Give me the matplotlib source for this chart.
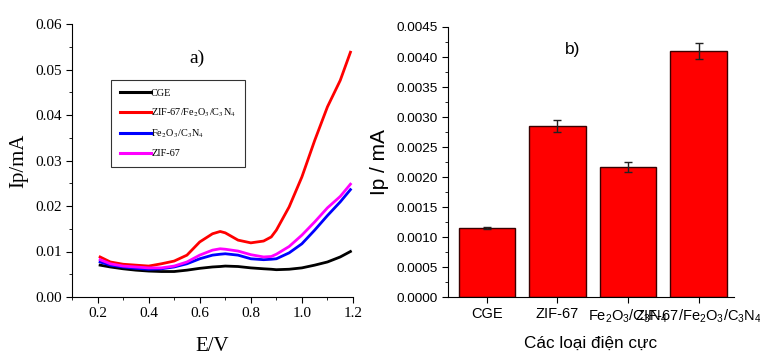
import matplotlib
matplotlib.use("Agg")
import matplotlib.pyplot as plt
import matplotlib.transforms as mtransforms
from matplotlib.font_manager import FontProperties
from matplotlib.ticker import MultipleLocator, FormatStrFormatter

plt.rcParams['mathtext.fontset'] = 'custom'
plt.rcParams['mathtext.rm'] = 'Liberation Sans'
plt.rcParams['mathtext.it'] = 'Liberation Sans:italic'

# ---- data: panel a ----
E = [0.21, 0.25, 0.30, 0.35, 0.40, 0.45, 0.50, 0.55, 0.60, 0.65, 0.68, 0.70,
     0.75, 0.80, 0.85, 0.88, 0.90, 0.95, 1.00, 1.05, 1.10, 1.15, 1.19]
cge = [0.0070, 0.0066, 0.0062, 0.0059, 0.0057, 0.0056, 0.0056, 0.0059, 0.0063, 0.0066, 0.0067, 0.0068,
       0.0067, 0.0064, 0.0062, 0.0061, 0.0060, 0.0061, 0.0064, 0.0070, 0.0077, 0.0088, 0.0100]
zif_fe_cn = [0.0088, 0.0077, 0.0072, 0.0070, 0.0068, 0.0073, 0.0079, 0.0092, 0.0121, 0.0139, 0.0144, 0.0141,
             0.0125, 0.0119, 0.0123, 0.0132, 0.0147, 0.0198, 0.0264, 0.0344, 0.0418, 0.0476, 0.0538]
fe_cn = [0.0077, 0.0070, 0.0066, 0.0063, 0.0061, 0.0062, 0.0066, 0.0073, 0.0084, 0.0092, 0.0094, 0.0095,
         0.0092, 0.0084, 0.0082, 0.0083, 0.0084, 0.0097, 0.0117, 0.0147, 0.0179, 0.0209, 0.0236]
zif = [0.0082, 0.0073, 0.0068, 0.0066, 0.0064, 0.0064, 0.0068, 0.0077, 0.0092, 0.0103, 0.0106, 0.0105,
       0.0101, 0.0093, 0.0088, 0.0089, 0.0094, 0.0111, 0.0136, 0.0165, 0.0196, 0.0221, 0.0248]

# ---- data: panel b ----
electrodes = ['CGE', 'ZIF-67', r'Fe$_2$O$_3$/C$_3$N$_4$', r'ZIF-67/Fe$_2$O$_3$/C$_3$N$_4$']
ip = [0.00115, 0.00285, 0.00217, 0.00410]
ip_err = [0.00002, 0.00010, 0.00008, 0.00014]

fig = plt.figure(figsize=(7.6, 3.58), dpi=100)

serif = 'Liberation Serif'
sans = 'Liberation Sans'

# ---------- panel a ----------
ax1 = fig.add_axes([72/760, 61/358, 281/760, 273/358])
ax1.plot(E, cge, color='black', lw=2, label='CGE')
ax1.plot(E, zif_fe_cn, color='#ff0000', lw=2, label=r'ZIF-67/Fe$_2$O$_3$/C$_3$N$_4$')
ax1.plot(E, fe_cn, color='#0000ff', lw=2, label=r'Fe$_2$O$_3$/C$_3$N$_4$')
ax1.plot(E, zif, color='#ff00ff', lw=2, label='ZIF-67')
ax1.set_xlim(0.1, 1.2)
ax1.set_ylim(0, 0.06)
ax1.xaxis.set_major_locator(MultipleLocator(0.2))
ax1.xaxis.set_minor_locator(MultipleLocator(0.1))
ax1.yaxis.set_major_locator(MultipleLocator(0.01))
ax1.yaxis.set_minor_locator(MultipleLocator(0.005))
ax1.xaxis.set_major_formatter(FormatStrFormatter('%.1f'))
ax1.yaxis.set_major_formatter(FormatStrFormatter('%.2f'))
ax1.spines['top'].set_visible(False)
ax1.spines['right'].set_visible(False)
ax1.tick_params(which='both', direction='out', labelsize=11)
ax1.tick_params(which='major', length=4)
ax1.tick_params(which='minor', length=2.5)
for lab in ax1.get_xticklabels() + ax1.get_yticklabels():
    lab.set_fontfamily(serif)
ax1.set_xlabel('E/V', fontfamily=serif, fontsize=15, labelpad=12)
ax1.set_ylabel('Ip/mA', fontfamily=serif, fontsize=15, labelpad=5)
ax1.text(0.445, 0.875, 'a)', transform=ax1.transAxes, fontfamily=serif, fontsize=14,
         ha='center', va='center')
leg = ax1.legend(loc='upper left', bbox_to_anchor=(39/281, 1 - (80 - 24)/273),
                 prop=FontProperties(family=serif, size=7.4, math_fontfamily='stix'),
                 frameon=True, fancybox=False, edgecolor='black', handlelength=3.0,
                 handletextpad=0.05, labelspacing=0.85, borderpad=0.85, borderaxespad=0)
for ln in leg.get_lines():
    ln.set_linewidth(2.2)
leg.get_frame().set_linewidth(0.8)

# ---------- panel b ----------
ax2 = fig.add_axes([448/760, 61/358, 286/760, 270/358])
x = list(range(len(electrodes)))
ax2.bar(x, ip, width=0.8, color='#ff0000', edgecolor='#3a0000', linewidth=1)
ax2.errorbar(x, ip, yerr=ip_err, fmt='none', ecolor='#222222', elinewidth=1, capsize=3)
ax2.set_xlim(-0.55, 3.5)
ax2.set_ylim(0, 0.0045)
ax2.set_xticks(x)
ax2.set_xticklabels(electrodes, fontfamily=sans, fontsize=10.5)
last = ax2.get_xticklabels()[-1]
last.set_transform(last.get_transform() + mtransforms.ScaledTranslation(14/100, 0, fig.dpi_scale_trans))
ax2.yaxis.set_major_locator(MultipleLocator(0.0005))
ax2.yaxis.set_minor_locator(MultipleLocator(0.00025))
ax2.yaxis.set_major_formatter(FormatStrFormatter('%.4f'))
for lab in ax2.get_yticklabels():
    lab.set_fontfamily(sans)
    lab.set_fontsize(9.7)
ax2.spines['top'].set_visible(False)
ax2.spines['right'].set_visible(False)
ax2.tick_params(which='both', direction='out')
ax2.tick_params(which='major', length=4)
ax2.tick_params(which='minor', length=2.5)
ax2.set_xlabel('Các loại điện cực', fontfamily=sans, fontsize=12.3, labelpad=8)
ax2.set_ylabel('Ip / mA', fontfamily=sans, fontsize=15, labelpad=5)
ax2.text(0.434, 0.915, 'b)', transform=ax2.transAxes, fontfamily=sans, fontsize=12.5,
         ha='center', va='center')

fig.savefig('out.png', dpi=100)
